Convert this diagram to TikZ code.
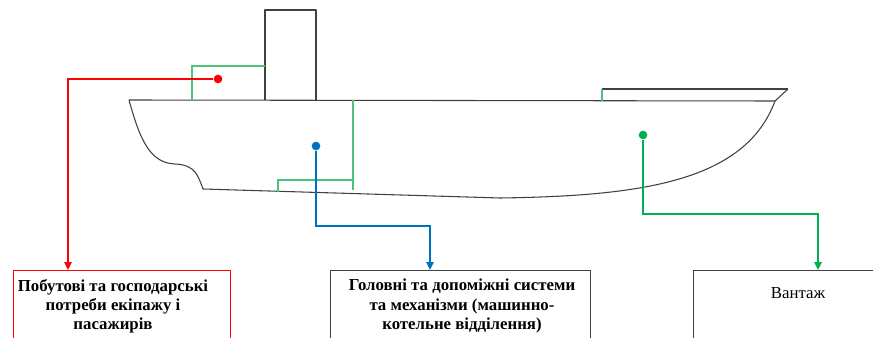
\documentclass[tikz,border=0pt]{standalone}
\usepackage{fontspec}
\setmainfont{Liberation Serif}
\usetikzlibrary{calc,arrows.meta}

\definecolor{hullgrey}{HTML}{404040}
\definecolor{pipegreen}{HTML}{4CC27A}
\definecolor{routered}{HTML}{FF0000}
\definecolor{routeblue}{HTML}{0070C0}
\definecolor{routegreen}{HTML}{00B050}

\begin{document}
\begin{tikzpicture}[x=0.75pt, y=-0.75pt, >={Triangle[length=6pt,width=5.5pt]},
    hull/.style={draw=hullgrey, line width=0.8pt, line join=round},
    pipe/.style={draw=pipegreen, line width=0.8pt},
    route/.style={->, line width=1.5pt},
    dot/.style={circle, fill, inner sep=0pt, minimum size=6.5pt},
    unit/.style={draw=hullgrey, line width=0.8pt, anchor=north west, minimum height=75pt},
    unittext/.style={font=\bfseries\fontsize{12.6}{14.4}\selectfont, align=center}]

  \useasboundingbox (0,0) rectangle (873,338);
  \clip (0,0) rectangle (873,338);

  % --- Ship outline ---
  \draw[hull] (265,100) -- (265,10) -- (316,10) -- (316,100);
  \draw[hull] (602,89) -- (788,89);
  \draw[hull] (129,100) -- (775,101);
  \draw[hull] (129,100) .. controls (140,140) and (150,163) .. (175,164)
    .. controls (196,165) and (198,176) .. (203,189) -- (500,198)
    .. controls (640,196) and (745,182) .. (775,101) -- (788,89);

  % --- Pipework ---
  \draw[pipe] (265,66) -- (192,66) -- (192,100);
  \draw[pipe] (353,100) -- (353,190);
  \draw[pipe] (353,180) -- (278,180) -- (278,192);
  \draw[pipe] (602,101) -- (602,89);

  % --- Consumer groups ---
  \node[unit, draw=routered, minimum width=162.75pt] (rbox) at (13,270) {};
  \node[unit, minimum width=195pt] (bbox) at (330,270) {};
  \node[unit, minimum width=160pt] (gbox) at (693,270) {};

  \node[unittext] (rtext) at (113,306) {Побутові та господарські\\потреби екіпажу і\\пасажирів};
  \node[unittext] (btext) at (462,306) {Головні та допоміжні системи\\та механізми (машинно-\\котельне відділення)};
  \node[unittext, font=\fontsize{12.6}{14.4}\selectfont] (gtext) at (798,293) {Вантаж};

  % --- Sources and routes ---
  \node[dot, routered] (rdot) at (218,79) {};
  \node[dot, routeblue] (bdot) at (316,146) {};
  \node[dot, routegreen] (gdot) at (643,135) {};

  \coordinate (rturn) at (68,79);
  \coordinate (bturn) at (430,226);
  \coordinate (gturn) at (818,214);

  \draw[route, color=routered] (rdot) -- (rturn) -- (rturn |- rbox.north);
  \draw[route, color=routeblue] (bdot) |- (bturn) -- (bturn |- bbox.north);
  \draw[route, color=routegreen] (gdot) |- (gturn) -- (gturn |- gbox.north);
\end{tikzpicture}
\end{document}
